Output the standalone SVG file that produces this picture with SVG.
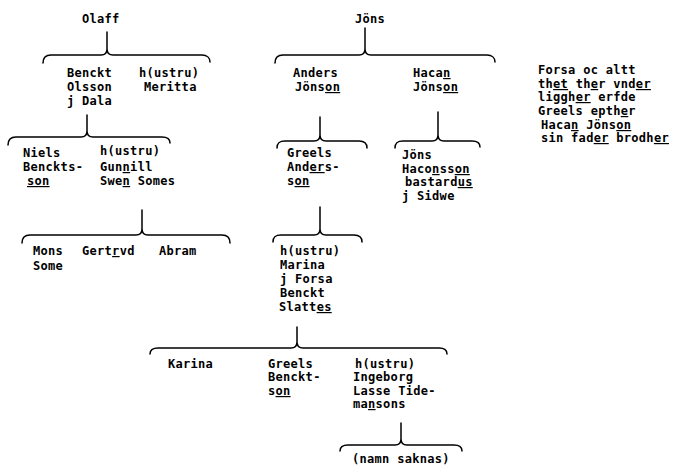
<svg xmlns="http://www.w3.org/2000/svg" width="680" height="466" viewBox="0 0 680 466">
<style>
text{font-family:"DejaVu Sans Mono","Liberation Mono",monospace;font-weight:bold;font-size:12px;letter-spacing:0.3px;fill:#000}
.u{text-decoration:underline}
.br{fill:none;stroke:#000;stroke-width:1.5;stroke-linecap:round;stroke-linejoin:round}
</style>
<rect width="680" height="466" fill="#fff"/>
<g id="connectors">
<path class="br" d="M107,32 L107,49 M43,63 C43,58 45,55 51,55 L101,55 C105,55 107,53 107,49 C107,53 109,55 113,55 L202,55 C207,55 210,58 210,62"/>
<path class="br" d="M365,28 L365,49 M275,63 C275,58 277,55 283,55 L359,55 C363,55 365,53 365,49 C365,53 367,55 371,55 L487,55 C492,55 495,58 495,62"/>
<path class="br" d="M87,115 L87,131 M8,145 C8,140 10,137 16,137 L81,137 C85,137 87,135 87,131 C87,135 89,137 93,137 L162,137 C167,137 170,139 170,143"/>
<path class="br" d="M320,117 L320,135 M277,148 C277,143 279,141 285,141 L314,141 C318,141 320,139 320,135 C320,139 322,141 326,141 L359,141 C364,141 367,143 367,148"/>
<path class="br" d="M438,112 L438,135 M395,148 C395,143 397,141 403,141 L432,141 C436,141 438,139 438,135 C438,139 440,141 444,141 L472,141 C477,141 480,143 480,147"/>
<path class="br" d="M142,210 L142,229 M22,243 C22,238 24,235 30,235 L136,235 C140,235 142,233 142,229 C142,233 144,235 148,235 L222,235 C227,235 230,238 230,243"/>
<path class="br" d="M320,207 L320,229 M273,242 C273,237 275,235 281,235 L314,235 C318,235 320,233 320,229 C320,233 322,235 326,235 L354,235 C359,235 362,237 362,242"/>
<path class="br" d="M297,327 L297,342 M150,354 C150,350 152,348 158,348 L291,348 C295,348 297,346 297,342 C297,346 299,348 303,348 L439,348 C444,348 447,350 447,354"/>
<path class="br" d="M401,423 L401,439 M340,451 C340,447 342,445 348,445 L395,445 C399,445 401,443 401,439 C401,443 403,445 407,445 L454,445 C459,445 462,447 462,451"/>
</g>
<g id="olaff"><text x="82" y="23">Olaff</text></g>
<g id="jons"><text x="355" y="23">Jöns</text></g>
<g id="benckt-olsson">
<text x="67" y="77">Benckt</text>
<text x="67" y="91">Olsson</text>
<text x="67" y="105">j Dala</text>
</g>
<g id="meritta">
<text x="139" y="77">h(ustru)</text>
<text x="144" y="91">Meritta</text>
</g>
<g id="anders">
<text x="293" y="77">Anders</text>
<text x="295" y="91">Jöns<tspan class="u">on</tspan></text>
</g>
<g id="hacan">
<text x="413" y="77">Haca<tspan class="u">n</tspan></text>
<text x="413" y="91">Jöns<tspan class="u">on</tspan></text>
</g>
<g id="note">
<text x="538" y="74">Forsa oc altt</text>
<text x="538" y="88">th<tspan class="u">et</tspan> th<tspan class="u">e</tspan>r vnd<tspan class="u">er</tspan></text>
<text x="538" y="101">liggh<tspan class="u">er</tspan> erfde</text>
<text x="538" y="115">Greels epth<tspan class="u">e</tspan>r</text>
<text x="541" y="129">Haca<tspan class="u">n</tspan> Jöns<tspan class="u">on</tspan></text>
<text x="541" y="142">sin fad<tspan class="u">er</tspan> brodh<tspan class="u">er</tspan></text>
</g>
<g id="niels">
<text x="23" y="157">Niels</text>
<text x="23" y="171">Benckts-</text>
<text x="27" y="185"><tspan class="u">son</tspan></text>
</g>
<g id="gunnill">
<text x="100" y="155">h(ustru)</text>
<text x="100" y="171">Gun<tspan class="u">n</tspan>ill</text>
<text x="100" y="185">Swe<tspan class="u">n</tspan> Somes</text>
</g>
<g id="greels-andersson">
<text x="287" y="157">Greels</text>
<text x="287" y="171">And<tspan class="u">er</tspan>s-</text>
<text x="287" y="185">s<tspan class="u">on</tspan></text>
</g>
<g id="jons-haconsson">
<text x="402" y="159">Jöns</text>
<text x="402" y="173">Haco<tspan class="u">n</tspan>ss<tspan class="u">on</tspan></text>
<text x="405" y="186">bastard<tspan class="u">us</tspan></text>
<text x="402" y="200">j Sidwe</text>
</g>
<g id="mons"><text x="33" y="255">Mons</text><text x="33" y="270">Some</text></g>
<g id="gertrvd"><text x="82" y="255">Gert<tspan class="u">r</tspan>vd</text></g>
<g id="abram"><text x="159" y="255">Abram</text></g>
<g id="marina">
<text x="280" y="255">h(ustru)</text>
<text x="280" y="269">Marina</text>
<text x="280" y="283">j Forsa</text>
<text x="280" y="297">Benckt</text>
<text x="279" y="311">Slatt<tspan class="u">es</tspan></text>
</g>
<g id="karina"><text x="168" y="368">Karina</text></g>
<g id="greels-bencktsson">
<text x="268" y="368">Greels</text>
<text x="268" y="381">Benckt-</text>
<text x="268" y="395">s<tspan class="u">on</tspan></text>
</g>
<g id="ingeborg">
<text x="355" y="368">h(ustru)</text>
<text x="353" y="381">Ingeborg</text>
<text x="353" y="395">Lasse Tide-</text>
<text x="353" y="408">ma<tspan class="u">n</tspan>sons</text>
</g>
<g id="namn-saknas"><text x="352" y="463">(namn saknas)</text></g>
</svg>
